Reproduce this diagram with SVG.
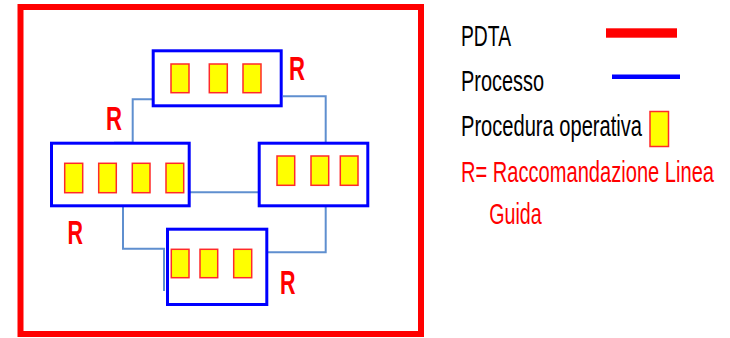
<svg xmlns="http://www.w3.org/2000/svg" width="730" height="338" viewBox="0 0 730 338">
<style>
.proc{fill:#fff;stroke:#0000ff;stroke-width:3}
.po{fill:#ffff00;stroke:#ff2a2a;stroke-width:1.5}
.conn{fill:none;stroke:#5f8fcf;stroke-width:2}
.r{font-family:"Liberation Sans",Arial,sans-serif;font-weight:bold;font-size:33px;fill:#ff0000}
.lg{font-family:"Liberation Sans",Arial,sans-serif;font-size:30px;fill:#000}
.lr{fill:#ff0000}
</style>
<rect x="0" y="0" width="730" height="338" fill="#fff"/>
<g id="pdta">
<rect x="20.5" y="7" width="400.5" height="327" fill="none" stroke="#ff0000" stroke-width="6"/>
</g>
<g id="connectors">
<path class="conn" d="M152,99.3 H132.7 V142.7 H114"/>
<path class="conn" d="M283,96.3 H325.7 V142"/>
<path class="conn" d="M190,192.3 H258"/>
<path class="conn" d="M123,207 V248.7 H164 V291"/>
<path class="conn" d="M325.7,207 V252.3 H268"/>
</g>
<g id="process-top">
<rect class="proc" x="153.2" y="50.8" width="128" height="55"/>
<rect class="po" x="171" y="64" width="18" height="28.7"/>
<rect class="po" x="209.3" y="64" width="18" height="28.7"/>
<rect class="po" x="243" y="64" width="18" height="28.7"/>
</g>
<g id="process-left">
<rect class="proc" x="51.5" y="143.2" width="137.7" height="62.6"/>
<rect class="po" x="64.7" y="163.3" width="18" height="29.4"/>
<rect class="po" x="98.7" y="163.3" width="17.6" height="29.4"/>
<rect class="po" x="132.3" y="163.3" width="17.7" height="29.4"/>
<rect class="po" x="166" y="163.3" width="17.7" height="29.4"/>
</g>
<g id="process-right">
<rect class="proc" x="259.2" y="143.2" width="108.6" height="62.6"/>
<rect class="po" x="277" y="156" width="17.7" height="29.3"/>
<rect class="po" x="311" y="156" width="17.7" height="29.3"/>
<rect class="po" x="340.3" y="156" width="17.7" height="29.3"/>
</g>
<g id="process-bottom">
<rect class="proc" x="167.5" y="229.2" width="99.3" height="75.3"/>
<rect class="po" x="171.3" y="249.3" width="17.7" height="28.4"/>
<rect class="po" x="200" y="249.3" width="17.7" height="28.4"/>
<rect class="po" x="233.7" y="249.3" width="18" height="28.4"/>
</g>
<g id="r-labels">
<text class="r" x="289" y="80" textLength="16" lengthAdjust="spacingAndGlyphs">R</text>
<text class="r" x="106" y="130" textLength="16" lengthAdjust="spacingAndGlyphs">R</text>
<text class="r" x="67.5" y="244" textLength="15.5" lengthAdjust="spacingAndGlyphs">R</text>
<text class="r" x="280" y="294" textLength="15.5" lengthAdjust="spacingAndGlyphs">R</text>
</g>
<g id="legend">
<text class="lg" x="461" y="46" textLength="50" lengthAdjust="spacingAndGlyphs">PDTA</text>
<rect x="606" y="28.3" width="71" height="9.4" fill="#ff0000"/>
<text class="lg" x="461" y="91" textLength="83" lengthAdjust="spacingAndGlyphs">Processo</text>
<rect x="612" y="74.5" width="68" height="4.5" fill="#0000ff"/>
<text class="lg" x="461" y="136" textLength="181" lengthAdjust="spacingAndGlyphs">Procedura operativa</text>
<rect class="po" x="650" y="111.5" width="18.5" height="35"/>
<text class="lg lr" transform="translate(461,181.5) scale(0.67,1)" x="0" y="0" textLength="377.6" lengthAdjust="spacingAndGlyphs">R= Raccomandazione Linea</text>
<text class="lg lr" x="489.3" y="224" textLength="52.4" lengthAdjust="spacingAndGlyphs">Guida</text>
</g>
</svg>
